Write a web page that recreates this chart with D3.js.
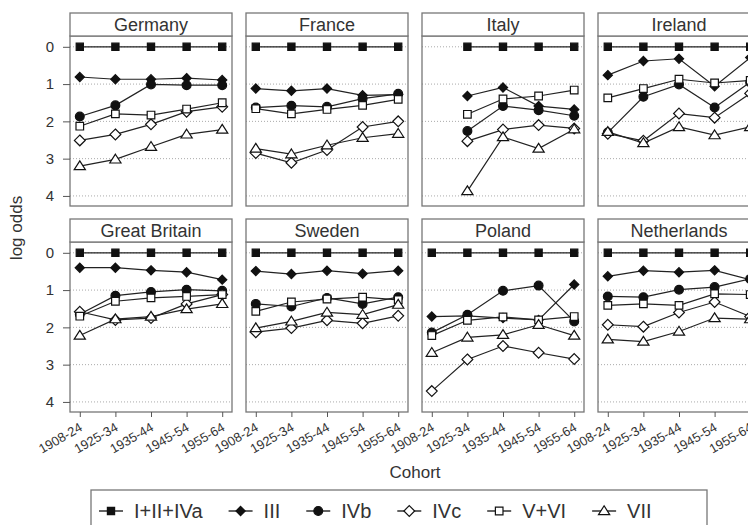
<!DOCTYPE html>
<html>
<head>
<meta charset="utf-8">
<script src="https://cdn.jsdelivr.net/npm/d3@7"></script>
<style>
  body { margin: 0; background: #fff; }
  svg { display: block; font-family: "Liberation Sans", Arial, sans-serif; }
</style>
</head>
<body>
<script>

// cohorts on the x axis, classes are the series
var cohorts = ["1908-24", "1925-34", "1935-44", "1945-54", "1955-64"];
var classes = ["I+II+IVa", "III", "IVb", "IVc", "V+VI", "VII"];
var countries = ["Germany", "France", "Italy", "Ireland",
                 "Great Britain", "Sweden", "Poland", "Netherlands"];
var yTicks = [0, 1, 2, 3, 4];

// log odds, one row per class (same order as classes), one column per cohort
var germany = [
  [0, 0, 0, 0, 0],
  [0.81, 0.87, 0.87, 0.84, 0.89],
  [1.87, 1.57, 1.01, 1.03, 1.03],
  [2.51, 2.35, 2.08, 1.74, 1.61],
  [2.13, 1.80, 1.83, 1.67, 1.50],
  [3.20, 3.02, 2.68, 2.35, 2.22]
];
var france = [
  [0, 0, 0, 0, 0],
  [1.12, 1.18, 1.12, 1.30, 1.28],
  [1.63, 1.58, 1.61, 1.39, 1.26],
  [2.85, 3.11, 2.77, 2.15, 2.00],
  [1.66, 1.80, 1.68, 1.57, 1.41],
  [2.73, 2.88, 2.64, 2.44, 2.33]
];
var italy = [
  [null, 0, 0, 0, 0],
  [null, 1.32, 1.09, 1.59, 1.68],
  [null, 2.26, 1.59, 1.70, 1.85],
  [null, 2.53, 2.22, 2.10, 2.19],
  [null, 1.81, 1.40, 1.32, 1.16],
  [null, 3.87, 2.42, 2.73, 2.21]
];
var ireland = [
  [0, 0, 0, 0, 0],
  [0.76, 0.38, 0.32, 1.06, 0.29],
  [2.30, 1.34, 1.01, 1.63, 0.95],
  [2.33, 2.52, 1.79, 1.90, 1.25],
  [1.37, 1.12, 0.87, 0.97, 0.90],
  [2.28, 2.58, 2.15, 2.37, 2.15]
];
var greatBritain = [
  [0, 0, 0, 0, 0],
  [0.40, 0.40, 0.47, 0.52, 0.72],
  [1.65, 1.15, 1.05, 0.99, 1.02],
  [1.58, 1.80, 1.75, 1.37, 1.12],
  [1.70, 1.30, 1.21, 1.17, 1.12],
  [2.22, 1.78, 1.71, 1.51, 1.37]
];
var sweden = [
  [0, 0, 0, 0, 0],
  [0.49, 0.57, 0.48, 0.56, 0.48],
  [1.37, 1.44, 1.21, 1.37, 1.19],
  [2.13, 2.02, 1.81, 1.89, 1.69],
  [1.57, 1.32, 1.24, 1.19, 1.26],
  [2.02, 1.84, 1.60, 1.66, 1.39]
];
var poland = [
  [0, 0, 0, 0, 0],
  [1.71, 1.69, 1.75, 1.80, 0.85],
  [2.14, 1.66, 1.02, 0.88, 1.84],
  [3.71, 2.86, 2.50, 2.68, 2.85],
  [2.22, 1.81, 1.72, 1.80, 1.71],
  [2.68, 2.27, 2.20, 1.93, 2.22]
];
var netherlands = [
  [0, 0, 0, 0, 0],
  [0.63, 0.48, 0.52, 0.47, 0.72],
  [1.17, 1.19, 0.99, 0.92, 0.70],
  [1.93, 1.98, 1.60, 1.32, 1.71],
  [1.41, 1.37, 1.41, 1.10, 1.12],
  [2.32, 2.38, 2.11, 1.75, 1.78]
];

var countryData = [germany, france, italy, ireland,
                   greatBritain, sweden, poland, netherlands];

window.onload = function() {

  var chartPad = {
    w: 748,
    h: 525,
    left: 70,
    top: 13,
    panelW: 162,
    colStep: 176,
    stripH: 23,
    plotH: 170,
    rowStep: 206
  };

  var svg = d3.select("body")
            .append("svg")
              .attr("width", chartPad.w)
              .attr("height", chartPad.h);

  var xScale = d3.scalePoint()
                 .domain(cohorts)
                 .range([0, chartPad.panelW])
                 .padding(0.275);

  var yScale = d3.scaleLinear()
                 .domain([-0.29, 4.27])
                 .range([0, chartPad.plotH]);

  countries.forEach(function(name, i) {
    var col = i % 4, row = Math.floor(i / 4);
    var px = chartPad.left + col * chartPad.colStep;
    var py = chartPad.top + row * chartPad.rowStep;
    drawPanel(svg, name, countryData[i], px, py, col, row, xScale, yScale, chartPad);
  });

  // axis titles
  svg.append("text")
     .attr("x", 415)
     .attr("y", 478)
     .attr("text-anchor", "middle")
     .attr("font-size", 17)
     .attr("fill", "#333")
     .text("Cohort");

  svg.append("text")
     .attr("transform", "translate(22,228) rotate(-90)")
     .attr("text-anchor", "middle")
     .attr("font-size", 17)
     .attr("fill", "#333")
     .text("log odds");

  drawLegend(svg);
};


function markerPath(k) {
  // one marker shape per class
  if (k == 0) return "M-3.6,-3.6H3.6V3.6H-3.6Z";
  if (k == 1) return "M0,-4.6L4.6,0L0,4.6L-4.6,0Z";
  if (k == 2) return d3.arc()({innerRadius: 0, outerRadius: 4.4, startAngle: 0, endAngle: 2 * Math.PI});
  if (k == 3) return "M0,-5.4L5.4,0L0,5.4L-5.4,0Z";
  if (k == 4) return "M-3.8,-3.8H3.8V3.8H-3.8Z";
  return "M0,-5.2L5.6,3.6L-5.6,3.6Z";
}

function markerFill(k) {
  return k < 3 ? "#111" : "#fff";
}


function drawPanel(svg, name, data, px, py, col, row, xScale, yScale, chartPad) {

  var g = svg.append("g")
             .attr("transform", "translate(" + px + "," + (py + chartPad.stripH) + ")");

  // strip with the country name
  svg.append("rect")
     .attr("x", px)
     .attr("y", py)
     .attr("width", chartPad.panelW)
     .attr("height", chartPad.stripH)
     .attr("fill", "#fff")
     .attr("stroke", "#777")
     .attr("stroke-width", 1.3);

  svg.append("text")
     .attr("x", px + chartPad.panelW / 2)
     .attr("y", py + 17.5)
     .attr("text-anchor", "middle")
     .attr("font-size", 18)
     .attr("fill", "#333")
     .text(name);

  // dotted grid
  g.selectAll(".grid")
   .data(yTicks)
   .enter()
   .append("line")
     .attr("x1", 0)
     .attr("x2", chartPad.panelW)
     .attr("y1", function(d) { return yScale(d); })
     .attr("y2", function(d) { return yScale(d); })
     .attr("stroke", "#aaa")
     .attr("stroke-width", 1)
     .attr("stroke-dasharray", "1,2");

  // panel frame
  g.append("rect")
   .attr("width", chartPad.panelW)
   .attr("height", chartPad.plotH)
   .attr("fill", "none")
   .attr("stroke", "#777")
   .attr("stroke-width", 1.3);

  if (col == 0) {
    var yAxis = d3.axisLeft(yScale)
                  .tickValues(yTicks)
                  .tickFormat(d3.format("d"))
                  .tickSize(7)
                  .tickPadding(9);
    var ya = g.append("g").call(yAxis);
    ya.select(".domain").remove();
    ya.selectAll("line").attr("stroke", "#555");
    ya.selectAll("text")
      .attr("font-size", 15)
      .attr("font-family", "Liberation Sans, Arial, sans-serif")
      .attr("fill", "#333");
  }

  if (row == 1) {
    var xAxis = d3.axisBottom(xScale).tickSize(5).tickPadding(0);
    var xa = g.append("g")
              .attr("transform", "translate(0," + chartPad.plotH + ")")
              .call(xAxis);
    xa.select(".domain").remove();
    xa.selectAll("line").attr("stroke", "#555");
    xa.selectAll("text")
      .attr("font-size", 13)
      .attr("font-family", "Liberation Sans, Arial, sans-serif")
      .attr("fill", "#333")
      .attr("text-anchor", "end")
      .attr("y", 0)
      .attr("dy", 0)
      .attr("transform", "translate(3,18) rotate(-30)");
  }

  var line = d3.line()
               .defined(function(d) { return d.v !== null; })
               .x(function(d) { return xScale(d.c); })
               .y(function(d) { return yScale(d.v); });

  data.forEach(function(vals, k) {
    var pts = vals.map(function(v, j) { return {c: cohorts[j], v: v}; });

    g.append("path")
     .datum(pts)
     .attr("d", line)
     .attr("fill", "none")
     .attr("stroke", "#222")
     .attr("stroke-width", 1.2);

    g.selectAll(".m" + k)
     .data(pts.filter(function(d) { return d.v !== null; }))
     .enter()
     .append("path")
       .attr("class", "m" + k)
       .attr("d", markerPath(k))
       .attr("transform", function(d) {
          return "translate(" + xScale(d.c) + "," + yScale(d.v) + ")";
       })
       .attr("fill", markerFill(k))
       .attr("stroke", "#111")
       .attr("stroke-width", 1.2);
  });
}


function drawLegend(svg) {
  var lg = svg.append("g");

  lg.append("rect")
    .attr("x", 91)
    .attr("y", 490)
    .attr("width", 616)
    .attr("height", 40)
    .attr("fill", "#fff")
    .attr("stroke", "#777")
    .attr("stroke-width", 1.3);

  var x = 99;
  var cy = 511;
  classes.forEach(function(name, k) {
    lg.append("line")
      .attr("x1", x)
      .attr("x2", x + 24)
      .attr("y1", cy)
      .attr("y2", cy)
      .attr("stroke", "#222")
      .attr("stroke-width", 1.4);
    lg.append("path")
      .attr("d", markerPath(k))
      .attr("transform", "translate(" + (x + 12) + "," + cy + ")")
      .attr("fill", markerFill(k))
      .attr("stroke", "#111")
      .attr("stroke-width", 1.2);
    var t = lg.append("text")
              .attr("x", x + 35)
              .attr("y", cy + 7)
              .attr("font-size", 20)
              .attr("fill", "#333")
              .text(name);
    x = x + 35 + t.node().getComputedTextLength() + 26;
  });
}

</script>
</body>
</html>
